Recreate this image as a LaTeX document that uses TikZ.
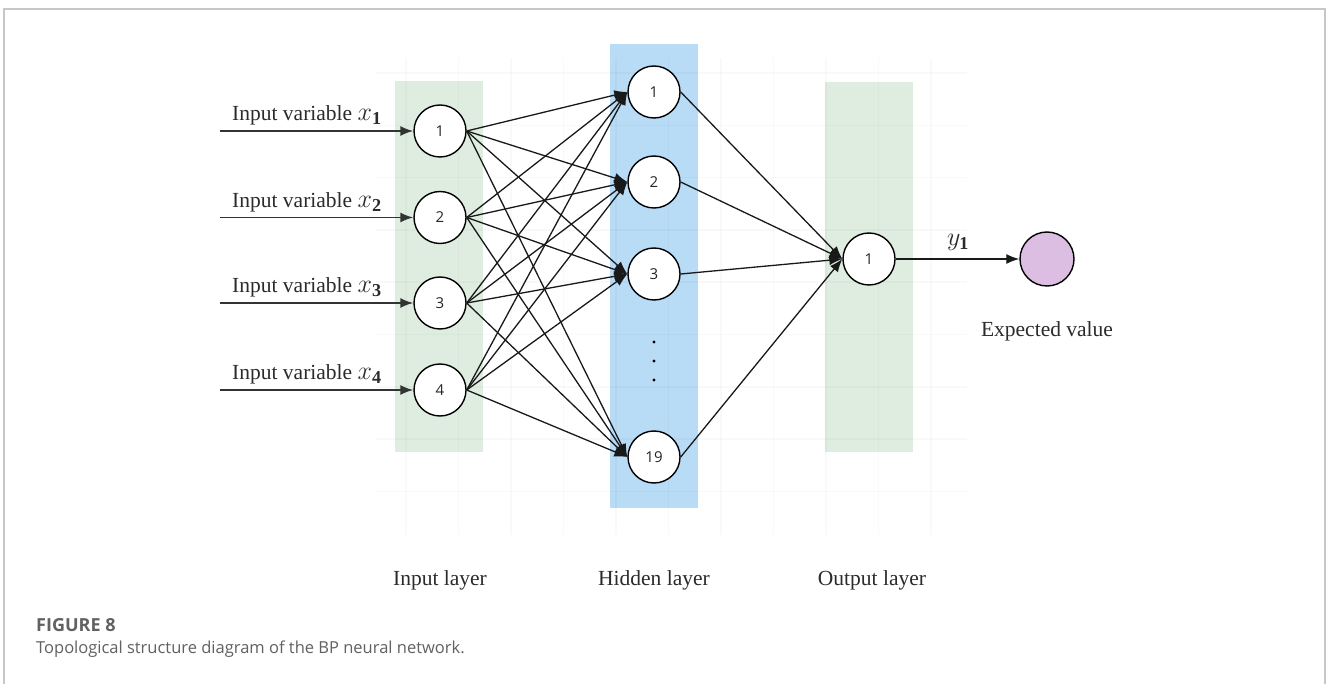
\RequirePackage{fix-cm}
\documentclass[tikz,border=0pt]{standalone}
\usepackage{fontspec}
\setmainfont{Liberation Serif}
\newfontfamily\capfont{Open Sans}
\usetikzlibrary{arrows.meta}
\definecolor{greenbox}{HTML}{DEEDE0}
\definecolor{bluebox}{HTML}{B8DBF6}
\definecolor{evfill}{HTML}{DCBEE3}
\definecolor{txt}{HTML}{2B2B2B}
\newcommand{\bigmath}[1]{{\fontsize{26}{28}\selectfont$#1$}}
\begin{document}
\begin{tikzpicture}[x=1pt,y=-1pt,
  neuron/.style={circle, draw=black, line width=1.4pt, fill=white, minimum size=52pt, inner sep=0pt,
    font=\capfont\fontsize{15}{18}\selectfont, text=black!85},
  edge/.style={line width=1.3pt, draw=black!90, -{Latex[length=13pt,width=10pt]}},
  inarrow/.style={line width=1.8pt, draw=black!80, -{Latex[length=13pt,width=10pt]}},
  lbl/.style={font=\fontsize{21.5}{24}\selectfont, text=txt, inner sep=0pt},
  gridline/.style={draw=black, opacity=0.025, line width=1.5pt},
  dotnode/.style={circle, fill=black, inner sep=0pt, minimum size=3.2pt}
]
\useasboundingbox (0,0) rectangle (1328,684);
\fill[white] (0,0) rectangle (1328,684);

% layer backgrounds
\fill[greenbox] (395,81) rectangle (483,452);
\fill[bluebox] (610,44) rectangle (698,508);
\fill[greenbox] (825,82) rectangle (913,452);

% faint grid
\foreach \x in {406,458.5,...,932} \draw[gridline] (\x,58) -- (\x,535);
\foreach \y in {73,125.3,...,535} \draw[gridline] (376,\y) -- (967,\y);

% frame
\draw[draw=black!22, line width=1.5pt] (4,684) -- (4,9) -- (1325,9) -- (1325,684);

% input nodes
\node[neuron] (i1) at (440,131) {1};
\node[neuron] (i2) at (440,217.5) {2};
\node[neuron] (i3) at (440,303) {3};
\node[neuron] (i4) at (440,390) {4};

% hidden nodes
\node[neuron] (h1) at (654,92) {1};
\node[neuron] (h2) at (654,182) {2};
\node[neuron] (h3) at (654,274) {3};
\node[neuron] (h19) at (654,457) {19};
\node[dotnode] (d1) at (654,342) {};
\node[dotnode] (d2) at (654,361) {};
\node[dotnode] (d3) at (654,380) {};

% output node and expected value
\node[neuron] (o1) at (869,259) {1};
\node[circle, draw=black, line width=1.4pt, fill=evfill, minimum size=54pt, inner sep=0pt] (ev) at (1047,259) {};

% input arrows and labels
\foreach \k/\y in {1/131,2/217.5,3/303,4/390} {
  \coordinate (s\k) at (220,\y);
  \draw[inarrow] (s\k) -- (i\k);
  \node[lbl, anchor=base west] (l\k) at (232,\y-10) {Input variable \bigmath{x_{\mathbf{\k}}}};
}

% input -> hidden
\foreach \i in {1,...,4}
  \foreach \j in {1,2,3,19}
    \draw[edge] (i\i.east) -- (h\j.west);

% hidden -> output
\foreach \j in {1,2,3,19}
  \draw[edge] (h\j.east) -- (o1.west);

% output -> expected value
\draw[edge] (o1) -- (ev);
\node[lbl, anchor=base] (y1) at (958,246) {\bigmath{y_{\mathbf{1}}}};
\node[lbl] (evl) at (1047,331) {Expected value};

% layer labels
\node[lbl] (inl) at (440,580) {Input layer};
\node[lbl] (hdl) at (654,580) {Hidden layer};
\node[lbl] (oul) at (872,580) {Output layer};

% caption
\node[anchor=west, inner sep=0pt, font=\capfont\bfseries\fontsize{18}{20}\selectfont, text=black!62] (fig) at (36,625) {FIGURE 8};
\node[anchor=west, inner sep=0pt, font=\capfont\fontsize{16.5}{20}\selectfont, text=black!62] (cap) at (36,649) {Topological structure diagram of the BP neural network.};
\end{tikzpicture}
\end{document}
